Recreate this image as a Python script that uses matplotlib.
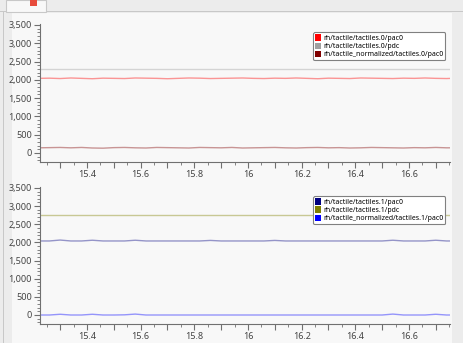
import matplotlib
matplotlib.use("Agg")
import matplotlib.pyplot as plt
from matplotlib.patches import Patch, Rectangle
from matplotlib.ticker import MultipleLocator, FuncFormatter

# sample times (s)
time = [15.22, 15.26, 15.30, 15.34, 15.38, 15.42, 15.46, 15.50, 15.54, 15.58,
        15.62, 15.66, 15.70, 15.74, 15.78, 15.82, 15.86, 15.90, 15.94, 15.98,
        16.02, 16.06, 16.10, 16.14, 16.18, 16.22, 16.26, 16.30, 16.34, 16.38,
        16.42, 16.46, 16.50, 16.54, 16.58, 16.62, 16.66, 16.70, 16.74, 16.76]

# tactile 0
pac0_t0 = [2040, 2045, 2035, 2050, 2040, 2030, 2045, 2040, 2035, 2050,
           2045, 2040, 2030, 2040, 2050, 2045, 2035, 2040, 2045, 2050,
           2040, 2035, 2045, 2040, 2050, 2040, 2030, 2045, 2040, 2035,
           2050, 2045, 2040, 2035, 2045, 2040, 2050, 2040, 2035, 2040]
pdc_t0 = [2290] * 40
norm_t0 = [140, 145, 150, 140, 150, 135, 130, 145, 150, 140,
           135, 150, 145, 140, 135, 150, 145, 140, 150, 135,
           140, 145, 150, 140, 135, 145, 150, 140, 145, 135,
           140, 150, 145, 140, 135, 145, 140, 150, 140, 140]

# tactile 1
pac0_t1 = [2040, 2040, 2065, 2040, 2040, 2060, 2040, 2040, 2040, 2060,
           2040, 2040, 2040, 2040, 2040, 2040, 2055, 2040, 2040, 2040,
           2040, 2040, 2055, 2040, 2040, 2040, 2040, 2040, 2040, 2040,
           2040, 2040, 2040, 2060, 2040, 2040, 2040, 2060, 2040, 2040]
pdc_t1 = [2750] * 40
norm_t1 = [0, 0, 20, 0, 0, 20, 0, 0, 5, 25,
           0, 0, 0, 0, 0, 0, 0, 0, 0, 0,
           0, 0, 0, 0, 0, 0, 0, 0, 0, 0,
           0, 0, 0, 25, 0, 0, 0, 20, 0, 0]

panels = [
    (["rh/tactile/tactiles.0/pac0", "rh/tactile/tactiles.0/pdc",
      "rh/tactile_normalized/tactiles.0/pac0"],
     [pac0_t0, pdc_t0, norm_t0], ["#ff0000", "#a0a0a0", "#800000"]),
    (["rh/tactile/tactiles.1/pac0", "rh/tactile/tactiles.1/pdc",
      "rh/tactile_normalized/tactiles.1/pac0"],
     [pac0_t1, pdc_t1, norm_t1], ["#000080", "#808000", "#0000ff"]),
]

plt.rcParams['font.family'] = ['Noto Sans', 'DejaVu Sans']

fig = plt.figure(figsize=(4.63, 3.43), dpi=100, facecolor="#ececec")


def deco(x, y, w, h, fc, ec="none", lw=0.0):
    # rectangle in pixel units from the bottom-left of the figure
    fig.patches.append(Rectangle((x / 463, y / 343), w / 463, h / 343,
                                 transform=fig.transFigure, facecolor=fc,
                                 edgecolor=ec, lw=lw, zorder=-10))


# window decorations: panel background, frame line, tab
deco(12, 0, 440, 330, "#f8f8f8")
deco(3, 0, 1, 331, "#c8c8c8")
deco(0, 331, 463, 1, "#c8c8c8")
deco(6, 331, 40, 12, "#f8f8f8", "#c8c8c8", 0.8)
deco(30, 337, 7, 6, "#e74c3c")

positions = [[40 / 463, 181 / 343, 410 / 463, 138 / 343],
             [40 / 463, 19 / 343, 410 / 463, 137 / 343]]
legend_tops = [0.965, 0.958]

fmt = FuncFormatter(lambda v, p: f"{int(round(v)):,}")
xfmt = FuncFormatter(lambda v, p: (f"{v:g}" if abs(round(v * 10) % 2) == 0 else ""))

for pos, ltop, (labels, series, colors) in zip(positions, legend_tops, panels):
    ax = fig.add_axes(pos)
    ax.set_facecolor("#f8f8f8")
    for vals, c in zip(series, colors):
        ax.plot(time, vals, color=c, alpha=0.4, lw=1.0)
    ax.set_xlim(15.225, 16.753)
    ax.set_ylim(-248, 3527)
    for s in ["top", "right"]:
        ax.spines[s].set_visible(False)
    for s in ["left", "bottom"]:
        ax.spines[s].set_color("#707070")
        ax.spines[s].set_linewidth(0.8)
    ax.yaxis.set_major_locator(MultipleLocator(500))
    ax.yaxis.set_minor_locator(MultipleLocator(100))
    ax.yaxis.set_major_formatter(fmt)
    ax.xaxis.set_major_locator(MultipleLocator(0.1))
    ax.xaxis.set_minor_locator(MultipleLocator(0.05))
    ax.xaxis.set_major_formatter(xfmt)
    ax.tick_params(which="major", length=4, width=0.8, color="#707070",
                   labelsize=6.5, labelcolor="#444444", pad=2)
    ax.tick_params(which="minor", length=2, width=0.6, color="#707070")
    ax.tick_params(axis="x", which="major", pad=2)
    handles = [Patch(facecolor=c, edgecolor="none") for c in colors]
    leg = ax.legend(handles, labels, loc="upper right",
                    bbox_to_anchor=(0.997, ltop), fontsize=5.0,
                    handlelength=0.8, handleheight=1.0, handletextpad=0.3,
                    labelspacing=0.1, borderpad=0.3, frameon=True,
                    fancybox=True, framealpha=1.0)
    leg.get_frame().set_edgecolor("#808080")
    leg.get_frame().set_linewidth(0.8)

fig.savefig("out.png", dpi=100, facecolor=fig.get_facecolor())
